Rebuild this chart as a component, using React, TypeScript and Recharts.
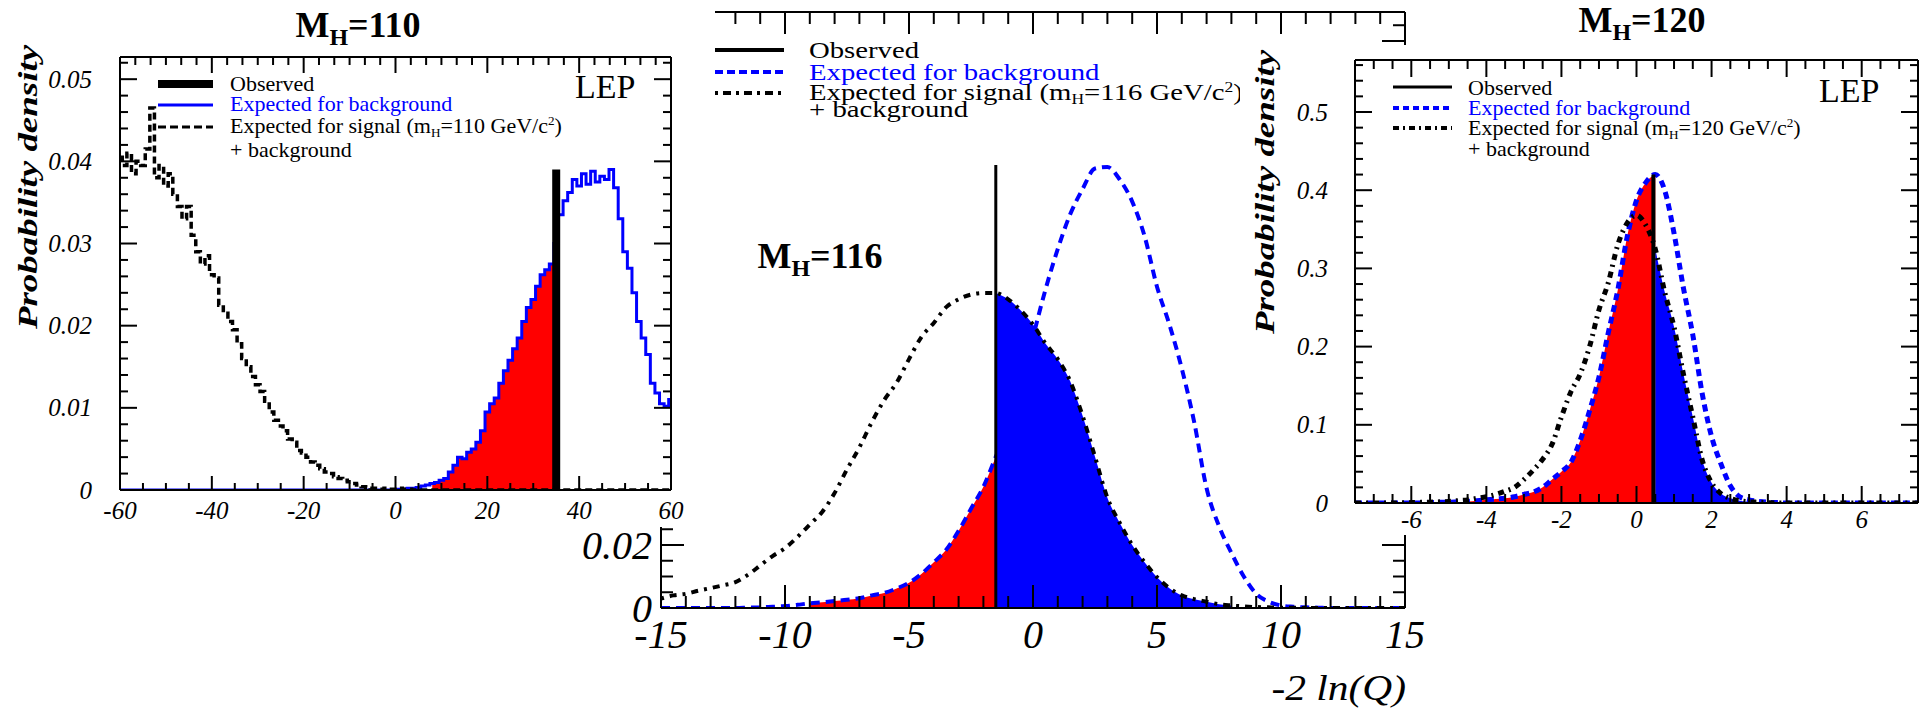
import React from 'react'
import { ComposedChart, Line, Area, XAxis, YAxis, ReferenceLine } from 'recharts'

const SERIF = '"Liberation Serif", "Times New Roman", serif'
const RED = '#ff0000'
const BLUE = '#0000ff'

// ---- m_H = 110 GeV : -2 ln(Q) histograms, 1-unit bins ----
const bins110 = Array.from({ length: 121 }, (_, i) => -60 + i)
const sb110 = [
  0.0405, 0.0395, 0.041, 0.0385, 0.04, 0.0395, 0.0415, 0.0465, 0.038, 0.0395,
  0.037, 0.0385, 0.036, 0.0345, 0.033, 0.0345, 0.031, 0.029, 0.0275, 0.0285,
  0.0262, 0.0258, 0.0225, 0.0215, 0.0205, 0.0195, 0.0178, 0.016, 0.015, 0.0138,
  0.0128, 0.012, 0.0108, 0.0095, 0.0085, 0.0078, 0.0072, 0.0062, 0.0058, 0.0048,
  0.0045, 0.004, 0.0034, 0.003, 0.0026, 0.0022, 0.002, 0.0016, 0.0014, 0.0012,
  0.001, 0.0008, 0.0006, 0.0004, 0.0003, 0.0002, 0.0002, 0.0001, 0.0002, 0.0001,
  0.0001, 0.0002, 0.0001, 0.0001, 0, 0, 0, 0, 0, 0,
  0, 0, 0, 0, 0, 0, 0, 0, 0, 0,
  0, 0, 0, 0, 0, 0, 0, 0, 0, 0,
  0, 0, 0, 0, 0, 0, 0, 0, 0, 0,
  0, 0, 0, 0, 0, 0, 0, 0, 0, 0,
  0, 0, 0, 0, 0, 0, 0, 0, 0, 0,
  0,
]
const bg110 = [
  0, 0, 0, 0, 0, 0, 0, 0, 0, 0,
  0, 0, 0, 0, 0, 0, 0, 0, 0, 0,
  0, 0, 0, 0, 0, 0, 0, 0, 0, 0,
  0, 0, 0, 0, 0, 0, 0, 0, 0, 0,
  0, 0, 0, 0, 0, 0, 0, 0, 0, 0,
  0, 0, 0, 0, 0, 0, 0, 0, 0, 0,
  0, 0.0001, 0.0001, 0.0002, 0.0002, 0.0003, 0.0005, 0.0006, 0.0008, 0.0009,
  0.0012, 0.0014, 0.0022, 0.003, 0.004, 0.0038, 0.0046, 0.005, 0.0058, 0.0072,
  0.0095, 0.0105, 0.0112, 0.013, 0.0145, 0.0158, 0.0172, 0.0185, 0.0205, 0.0222,
  0.0232, 0.0248, 0.0262, 0.0268, 0.0275, 0.03, 0.0335, 0.0352, 0.0362, 0.0378,
  0.037, 0.0385, 0.0372, 0.0388, 0.0375, 0.0382, 0.0378, 0.039, 0.0368, 0.033,
  0.029, 0.027, 0.024, 0.0205, 0.0185, 0.0165, 0.013, 0.0118, 0.0105, 0.0102,
  0.011,
]
const obs110 = 35
const obsTop110 = 0.039
const redFrom110 = 8

// ---- m_H = 116 GeV : 0.5-unit bins ----
const bins116 = Array.from({ length: 61 }, (_, i) => -15 + i * 0.5)
const sb116 = [
  0.003, 0.004, 0.0045, 0.0055, 0.0063, 0.0072, 0.0082, 0.0105, 0.0135, 0.0165,
  0.019, 0.0225, 0.0265, 0.0305, 0.0365, 0.044, 0.051, 0.059, 0.066, 0.0715,
  0.079, 0.086, 0.0905, 0.0955, 0.098, 0.0995, 0.1, 0.1, 0.098, 0.0945,
  0.09, 0.084, 0.079, 0.072, 0.061, 0.048, 0.035, 0.027, 0.02, 0.0145,
  0.0098, 0.0063, 0.004, 0.0028, 0.002, 0.0012, 0.0008, 0.0005, 0.0003, 0.0002,
  0.0001, 0.0001, 0, 0, 0, 0, 0, 0, 0, 0,
  0,
]
const bg116 = [
  0, 0, 0, 0, 0, 0, 0, 0.0001, 0.0002, 0.0004,
  0.0006, 0.001, 0.0015, 0.0018, 0.0022, 0.0026, 0.0031, 0.004, 0.0048, 0.0062,
  0.008, 0.0108, 0.0145, 0.0185, 0.0245, 0.0315, 0.0385, 0.048, 0.058, 0.07,
  0.086, 0.101, 0.114, 0.125, 0.133, 0.1395, 0.14, 0.136, 0.129, 0.118,
  0.102, 0.09, 0.076, 0.059, 0.038, 0.026, 0.0175, 0.01, 0.0045, 0.002,
  0.0008, 0.0004, 0.0002, 0.0001, 0, 0, 0, 0, 0, 0,
  0,
]
const obs116 = -1.5
const obsTop116 = 0.1406
const redFrom116 = -9
const blueTo116 = 8

// ---- m_H = 120 GeV : 0.25-unit bins ----
const bins120 = Array.from({ length: 61 }, (_, i) => -7.5 + i * 0.25)
const bg120 = [
  0, 0, 0, 0, 0, 0, 0, 0, 0.0005, 0.0008,
  0.001, 0.0015, 0.002, 0.003, 0.004, 0.005, 0.006, 0.008, 0.011, 0.014,
  0.02, 0.03, 0.04, 0.052, 0.08, 0.118, 0.161, 0.218, 0.272, 0.34,
  0.387, 0.41, 0.42, 0.4, 0.345, 0.275, 0.215, 0.14, 0.085, 0.05,
  0.022, 0.008, 0.004, 0.002, 0.001, 0.0005, 0, 0, 0, 0,
  0, 0, 0, 0, 0, 0, 0, 0, 0, 0,
  0,
]
const sb120 = [
  0, 0, 0, 0, 0, 0.0003, 0.0005, 0.0008, 0.001, 0.0015,
  0.002, 0.003, 0.004, 0.006, 0.008, 0.011, 0.015, 0.02, 0.03, 0.042,
  0.056, 0.075, 0.11, 0.142, 0.165, 0.2, 0.247, 0.282, 0.33, 0.358,
  0.368, 0.355, 0.325, 0.27, 0.225, 0.165, 0.11, 0.055, 0.026, 0.012,
  0.006, 0.003, 0.0015, 0.001, 0.0005, 0, 0, 0, 0, 0,
  0, 0, 0, 0, 0, 0, 0, 0, 0, 0,
  0,
]
const obs120 = 0.45
const split120 = 0.5
const obsTop120 = 0.42
const redFrom120 = -4.5
const blueTo120 = 3

type Row = { x: number; bg: number; sb: number; red: number | null; blue: number | null }

// red: background below the observed value, blue: signal+background above it
function buildRows(xs: number[], bg: number[], sb: number[], redFrom: number, split: number, blueTo: number | null): Row[] {
  const eps = 1e-9
  return xs.map((x, i) => ({
    x,
    bg: bg[i],
    sb: sb[i],
    red: x >= redFrom - eps && x <= split + eps ? bg[i] : null,
    blue: blueTo !== null && x >= split - eps && x <= blueTo + eps ? sb[i] : null,
  }))
}

const rows110 = buildRows(bins110, bg110, sb110, redFrom110, obs110, null)
const rows116 = buildRows(bins116, bg116, sb116, redFrom116, obs116, blueTo116)
const rows120 = buildRows(bins120, bg120, sb120, redFrom120, split120, blueTo120)

const span = (a: number, b: number, n: number) =>
  Array.from({ length: n + 1 }, (_, i) => +(a + ((b - a) * i) / n).toFixed(6))

type Side = 'bottom' | 'top' | 'left' | 'right'
type TickOpt = {
  side: Side
  step: number
  major: number
  minor: number
  fmt?: (v: number) => string
  font?: number
  off?: number
}

// ROOT-style ticks: drawn inside the frame, longer on the labelled divisions
function makeTick(o: TickOpt) {
  return (p: any) => {
    const x = Number(p.x)
    const y = Number(p.y)
    const v = Number(p.payload?.value)
    const r = v / o.step
    const isMajor = Math.abs(r - Math.round(r)) < 1e-4
    const len = isMajor ? o.major : o.minor
    let x2 = x
    let y2 = y
    if (o.side === 'bottom') y2 = y - len
    if (o.side === 'top') y2 = y + len
    if (o.side === 'left') x2 = x + len
    if (o.side === 'right') x2 = x - len
    const label = isMajor && o.fmt ? o.fmt(v) : null
    const font = o.font ?? 24
    const off = o.off ?? 20
    const txt = { fontFamily: SERIF, fontSize: font, fontStyle: 'italic' as const, fill: '#000' }
    return (
      <g>
        <line x1={x} y1={y} x2={x2} y2={y2} stroke="#000" strokeWidth={2} />
        {label !== null && o.side === 'bottom' && (
          <text x={x} y={y + off} textAnchor="middle" {...txt}>{label}</text>
        )}
        {label !== null && o.side === 'left' && (
          <text x={x - off} y={y + font * 0.34} textAnchor="end" {...txt}>{label}</text>
        )}
      </g>
    )
  }
}

type FrameOpt = {
  xDomain: [number, number]
  yDomain: [number, number]
  xTicks: number[]
  xTopTicks: number[]
  yTicks: number[]
  bottom: TickOpt
  top: TickOpt
  left: TickOpt
  right: TickOpt
  hTop: number
  hBottom: number
  wLeft: number
  wRight: number
}

function frameAxes(f: FrameOpt) {
  const line = { stroke: '#000', strokeWidth: 2 }
  const common = { tickSize: 0, tickMargin: 0, tickLine: false, axisLine: line, interval: 0 as const, allowDataOverflow: true }
  return [
    <XAxis key="xb" xAxisId="b" orientation="bottom" dataKey="x" type="number" domain={f.xDomain} ticks={f.xTicks} height={f.hBottom} tick={makeTick(f.bottom)} {...common} />,
    <XAxis key="xt" xAxisId="t" orientation="top" dataKey="x" type="number" domain={f.xDomain} ticks={f.xTopTicks} height={f.hTop} tick={makeTick(f.top)} {...common} />,
    <YAxis key="yl" yAxisId="l" orientation="left" type="number" domain={f.yDomain} ticks={f.yTicks} width={f.wLeft} tick={makeTick(f.left)} {...common} />,
    <YAxis key="yr" yAxisId="r" orientation="right" type="number" domain={f.yDomain} ticks={f.yTicks} width={f.wRight} tick={makeTick(f.right)} {...common} />,
  ]
}

type TxtProps = {
  x: number
  y: number
  size: number
  anchor?: 'start' | 'middle' | 'end'
  italic?: boolean
  bold?: boolean
  fill?: string
  sx?: number
  rotate?: number
  children: React.ReactNode
}

function Txt({ x, y, size, anchor = 'start', italic, bold, fill = '#000', sx = 1, rotate = 0, children }: TxtProps) {
  const tf = `translate(${x},${y})${rotate ? ` rotate(${rotate})` : ''}${sx !== 1 ? ` scale(${sx},1)` : ''}`
  return (
    <text
      transform={tf}
      fontFamily={SERIF}
      fontSize={size}
      fontStyle={italic ? 'italic' : 'normal'}
      fontWeight={bold ? 'bold' : 'normal'}
      textAnchor={anchor}
      fill={fill}
    >
      {children}
    </text>
  )
}

function MassTitle({ x, y, mass }: { x: number; y: number; mass: string }) {
  return (
    <Txt x={x} y={y} size={36} bold anchor="middle">
      M<tspan fontSize={24} dy={8}>H</tspan>
      <tspan dy={-8}>={mass}</tspan>
    </Txt>
  )
}

function SignalText({ x, y, size, sx, mass }: { x: number; y: number; size: number; sx: number; mass: string }) {
  const s = Math.round(size * 0.62)
  return (
    <Txt x={x} y={y} size={size} sx={sx}>
      Expected for signal (m<tspan fontSize={s} dy={4}>H</tspan>
      <tspan dy={-4}>={mass} GeV/c</tspan>
      <tspan fontSize={s} dy={-8}>2</tspan>
      <tspan dy={8}>)</tspan>
    </Txt>
  )
}

function YTitle({ x, y }: { x: number; y: number }) {
  return (
    <Txt x={x} y={y} size={28} bold italic anchor="middle" rotate={-90} sx={1.32}>
      Probability density
    </Txt>
  )
}

const fmt2 = (v: number) => (v === 0 ? '0' : v.toFixed(2))
const fmt1 = (v: number) => (v === 0 ? '0' : v.toFixed(1))
const fmtInt = (v: number) => String(Math.round(v))

function Panel110() {
  const W = 715
  const H = 527
  return (
    <div style={{ position: 'absolute', left: 0, top: 0, width: W, height: H, background: '#fff' }}>
      <ComposedChart width={W} height={H} data={rows110} margin={{ top: 0, right: 0, bottom: 0, left: 0 }}>
        {frameAxes({
          xDomain: [-60, 60],
          yDomain: [0, 0.0527],
          xTicks: span(-60, 60, 24),
          xTopTicks: span(-60, 60, 36),
          yTicks: span(0, 0.052, 26),
          bottom: { side: 'bottom', step: 20, major: 14, minor: 7, fmt: fmtInt, font: 25, off: 29 },
          top: { side: 'top', step: 20, major: 16, minor: 8 },
          left: { side: 'left', step: 0.01, major: 17, minor: 8, fmt: fmt2, font: 25, off: 28 },
          right: { side: 'right', step: 0.01, major: 17, minor: 8 },
          hTop: 57,
          hBottom: 37,
          wLeft: 120,
          wRight: 44,
        })}
        <Area xAxisId="b" yAxisId="l" dataKey="red" type="step" fill={RED} fillOpacity={1} stroke="none" dot={false} activeDot={false} isAnimationActive={false} />
        <Line xAxisId="b" yAxisId="l" dataKey="bg" type="step" stroke={BLUE} strokeWidth={3} dot={false} activeDot={false} isAnimationActive={false} />
        <Line xAxisId="b" yAxisId="l" dataKey="sb" type="step" stroke="#000" strokeWidth={3.5} strokeDasharray="7 4" dot={false} activeDot={false} isAnimationActive={false} />
        <ReferenceLine xAxisId="b" yAxisId="l" segment={[{ x: obs110, y: 0 }, { x: obs110, y: obsTop110 }]} stroke="#000" strokeWidth={8} />
      </ComposedChart>
      <svg width={W} height={H} style={{ position: 'absolute', left: 0, top: 0 }}>
        <MassTitle x={358} y={37} mass="110" />
        <Txt x={575} y={98} size={34}>LEP</Txt>
        <line x1={158} x2={213} y1={84} y2={84} stroke="#000" strokeWidth={8} />
        <line x1={158} x2={213} y1={105} y2={105} stroke={BLUE} strokeWidth={3} />
        <line x1={158} x2={213} y1={127} y2={127} stroke="#000" strokeWidth={3} strokeDasharray="8 4" />
        <Txt x={230} y={91} size={20} sx={1.1}>Observed</Txt>
        <Txt x={230} y={111} size={20} sx={1.1} fill={BLUE}>Expected for background</Txt>
        <SignalText x={230} y={133} size={20} sx={1.1} mass="110" />
        <Txt x={230} y={157} size={20} sx={1.1}>+ background</Txt>
        <YTitle x={37} y={187} />
      </svg>
    </div>
  )
}

function Panel116() {
  const W = 880
  const H = 715
  return (
    <div style={{ position: 'absolute', left: 560, top: 0, width: W, height: H }}>
      <ComposedChart width={W} height={H} data={rows116} margin={{ top: 0, right: 0, bottom: 0, left: 0 }}>
        {frameAxes({
          xDomain: [-15, 15],
          yDomain: [0, 0.1892],
          xTicks: span(-15, 15, 30),
          xTopTicks: span(-15, 15, 30),
          yTicks: span(0, 0.185, 37),
          bottom: { side: 'bottom', step: 5, major: 23, minor: 12, fmt: fmtInt, font: 40, off: 40 },
          top: { side: 'top', step: 5, major: 22, minor: 12 },
          left: { side: 'left', step: 0.02, major: 23, minor: 12, fmt: fmt2, font: 40, off: 9 },
          right: { side: 'right', step: 0.02, major: 23, minor: 12 },
          hTop: 12,
          hBottom: 107,
          wLeft: 101,
          wRight: 35,
        })}
        <Area xAxisId="b" yAxisId="l" dataKey="red" type="monotone" fill={RED} fillOpacity={1} stroke="none" dot={false} activeDot={false} isAnimationActive={false} />
        <Area xAxisId="b" yAxisId="l" dataKey="blue" type="monotone" fill={BLUE} fillOpacity={1} stroke="none" dot={false} activeDot={false} isAnimationActive={false} />
        <Line xAxisId="b" yAxisId="l" dataKey="bg" type="monotone" stroke={BLUE} strokeWidth={4} strokeDasharray="9 6" dot={false} activeDot={false} isAnimationActive={false} />
        <Line xAxisId="b" yAxisId="l" dataKey="sb" type="monotone" stroke="#000" strokeWidth={4} strokeDasharray="3 6 7 6" dot={false} activeDot={false} isAnimationActive={false} />
        <ReferenceLine xAxisId="b" yAxisId="l" segment={[{ x: obs116, y: 0 }, { x: obs116, y: obsTop116 }]} stroke="#000" strokeWidth={3} />
      </ComposedChart>
      <svg width={W} height={H} style={{ position: 'absolute', left: 0, top: 0 }}>
        <MassTitle x={260} y={268} mass="116" />
        <line x1={155} x2={224} y1={50} y2={50} stroke="#000" strokeWidth={4} />
        <line x1={155} x2={224} y1={72} y2={72} stroke={BLUE} strokeWidth={4} strokeDasharray="8 4" />
        <line x1={155} x2={224} y1={93} y2={93} stroke="#000" strokeWidth={4} strokeDasharray="3 5 8 5" />
        <Txt x={249} y={58} size={23} sx={1.25}>Observed</Txt>
        <Txt x={249} y={80} size={23} sx={1.25} fill={BLUE}>Expected for background</Txt>
        <SignalText x={249} y={100} size={23} sx={1.25} mass="116" />
        <Txt x={249} y={117} size={23} sx={1.25}>+ background</Txt>
        <Txt x={846} y={700} size={36} italic anchor="end" sx={1.15}>-2 ln(Q)</Txt>
      </svg>
    </div>
  )
}

function Panel120() {
  const W = 685
  const H = 535
  const chartTop = 45
  const CH = H - chartTop
  return (
    <div style={{ position: 'absolute', left: 1240, top: 0, width: W, height: H }}>
      <div style={{ position: 'absolute', left: 0, top: chartTop, width: W, height: CH, background: '#fff' }}>
        <ComposedChart width={W} height={CH} data={rows120} margin={{ top: 0, right: 0, bottom: 0, left: 0 }}>
          {frameAxes({
            xDomain: [-7.5, 7.5],
            yDomain: [0, 0.5665],
            xTicks: span(-7.5, 7.5, 30),
            xTopTicks: span(-7.5, 7.5, 30),
            yTicks: span(0, 0.56, 28),
            bottom: { side: 'bottom', step: 2, major: 17, minor: 9, fmt: fmtInt, font: 25, off: 25 },
            top: { side: 'top', step: 2, major: 17, minor: 9 },
            left: { side: 'left', step: 0.1, major: 17, minor: 8, fmt: fmt1, font: 25, off: 27 },
            right: { side: 'right', step: 0.1, major: 17, minor: 8 },
            hTop: 15,
            hBottom: 32,
            wLeft: 115,
            wRight: 7,
          })}
          <Area xAxisId="b" yAxisId="l" dataKey="red" type="monotone" fill={RED} fillOpacity={1} stroke="none" dot={false} activeDot={false} isAnimationActive={false} />
          <Area xAxisId="b" yAxisId="l" dataKey="blue" type="monotone" fill={BLUE} fillOpacity={1} stroke="none" dot={false} activeDot={false} isAnimationActive={false} />
          <Line xAxisId="b" yAxisId="l" dataKey="bg" type="monotone" stroke={BLUE} strokeWidth={5} strokeDasharray="7 5" dot={false} activeDot={false} isAnimationActive={false} />
          <Line xAxisId="b" yAxisId="l" dataKey="sb" type="monotone" stroke="#000" strokeWidth={5} strokeDasharray="6 5 2 5" dot={false} activeDot={false} isAnimationActive={false} />
          <ReferenceLine xAxisId="b" yAxisId="l" segment={[{ x: obs120, y: 0 }, { x: obs120, y: obsTop120 }]} stroke="#000" strokeWidth={4} />
        </ComposedChart>
      </div>
      <svg width={W} height={H} style={{ position: 'absolute', left: 0, top: 0 }}>
        <MassTitle x={402} y={32} mass="120" />
        <Txt x={579} y={102} size={34}>LEP</Txt>
        <line x1={153} x2={212} y1={87} y2={87} stroke="#000" strokeWidth={3} />
        <line x1={153} x2={212} y1={108} y2={108} stroke={BLUE} strokeWidth={4} strokeDasharray="6 4" />
        <line x1={153} x2={212} y1={128} y2={128} stroke="#000" strokeWidth={4} strokeDasharray="6 4 2 4" />
        <Txt x={228} y={95} size={20} sx={1.1}>Observed</Txt>
        <Txt x={228} y={115} size={20} sx={1.1} fill={BLUE}>Expected for background</Txt>
        <SignalText x={228} y={135} size={20} sx={1.1} mass="120" />
        <Txt x={228} y={156} size={20} sx={1.1}>+ background</Txt>
        <YTitle x={34} y={192} />
      </svg>
    </div>
  )
}

export default function App() {
  return (
    <div style={{ position: 'absolute', left: 0, top: 0, width: 1925, height: 715, background: '#fff', overflow: 'hidden' }}>
      <Panel116 />
      <Panel110 />
      <Panel120 />
    </div>
  )
}
